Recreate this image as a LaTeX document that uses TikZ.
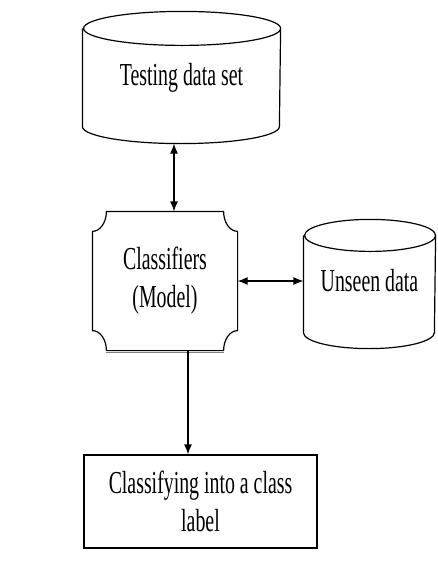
\documentclass[tikz,border=0pt]{standalone}
\usepackage{fontspec}
\setmainfont{Liberation Serif}[FakeStretch=0.62]
\usetikzlibrary{arrows.meta}

\begin{document}
\begin{tikzpicture}[x=1pt,y=-1pt,line width=1.2pt]
\tikzstyle{every node}=[inner sep=0pt,align=center,font=\fontsize{32}{38}\selectfont]
\tikzstyle{arr}=[-{Latex[length=10pt,width=8pt]}]
\tikzstyle{twoway}=[{Latex[length=10pt,width=8pt]}-{Latex[length=10pt,width=8pt]}]

\useasboundingbox (0,0) rectangle (437,563);

\node (test) at (181.5,77.5) [minimum width=197pt,minimum height=131pt] {\raisebox{2pt}{Testing data set}};
\node (cls) at (165,281) [minimum width=144pt,minimum height=138pt] {Classifiers\\(Model)};
\node (unseen) at (369.5,284) [minimum width=131pt,minimum height=128pt] {\raisebox{7pt}{Unseen data}};
\node (res) at (200.5,501.5) [draw,minimum width=233pt,minimum height=93pt] {Classifying into a class\\label};

% data stores
\draw ([yshift=-17pt]test.north west) -- ([yshift=17pt]test.south west)
  arc[start angle=180,end angle=360,x radius=98.5pt,y radius=17pt]
  -- ([yshift=-17pt]test.north east)
  arc[start angle=0,end angle=360,x radius=98.5pt,y radius=17pt];
\draw ([yshift=-16pt]unseen.north west) -- ([yshift=16pt]unseen.south west)
  arc[start angle=180,end angle=360,x radius=65.5pt,y radius=16pt]
  -- ([yshift=-16pt]unseen.north east)
  arc[start angle=0,end angle=360,x radius=65.5pt,y radius=16pt];

% model box with cut corners
\draw ([xshift=14pt]cls.north west) -- ([xshift=-14pt]cls.north east)
  arc[start angle=180,end angle=270,x radius=14pt,y radius=20pt]
  -- ([yshift=20pt]cls.south east)
  arc[start angle=90,end angle=180,x radius=14pt,y radius=20pt]
  -- ([xshift=14pt]cls.south west)
  arc[start angle=0,end angle=90,x radius=14pt,y radius=20pt]
  -- ([yshift=-20pt]cls.north west)
  arc[start angle=270,end angle=360,x radius=14pt,y radius=20pt] -- cycle;
\draw[gray,line width=0.8pt] ([xshift=14pt,yshift=-2pt]cls.south west) -- ([xshift=-14pt,yshift=-2pt]cls.south east);

\draw[twoway] ([xshift=9pt]cls.north) -- ([xshift=9pt]cls.north |- test.south);
\draw[twoway] (cls.east) -- (cls.east -| unseen.west);
\draw[arr] ([xshift=23pt]cls.south) -- ([xshift=23pt]cls.south |- res.north);

\end{tikzpicture}
\end{document}
